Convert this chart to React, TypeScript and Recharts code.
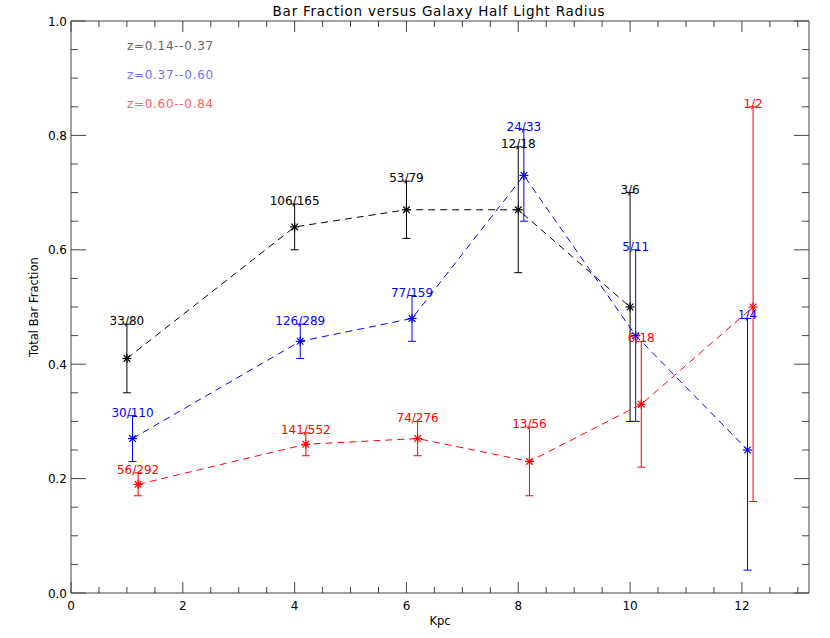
import { ComposedChart, Scatter, XAxis, YAxis, ErrorBar } from 'recharts';

// z = 0.14 -- 0.37
const blackX = [1.0, 4.0, 6.0, 8.0, 10.0];
const blackY = [0.41, 0.64, 0.67, 0.67, 0.5];
const blackLo = [0.35, 0.6, 0.62, 0.56, 0.3];
const blackHi = [0.47, 0.68, 0.72, 0.78, 0.7];
const blackLabels = ['33/80', '106/165', '53/79', '12/18', '3/6'];

// z = 0.37 -- 0.60
const blueX = [1.1, 4.1, 6.1, 8.1, 10.1, 12.1];
const blueY = [0.27, 0.44, 0.48, 0.73, 0.45, 0.25];
const blueLo = [0.23, 0.41, 0.44, 0.65, 0.3, 0.04];
const blueHi = [0.31, 0.47, 0.52, 0.81, 0.6, 0.48];
const blueLabels = ['30/110', '126/289', '77/159', '24/33', '5/11', '1/4'];

// z = 0.60 -- 0.84
const redX = [1.2, 4.2, 6.2, 8.2, 10.2, 12.2];
const redY = [0.19, 0.26, 0.27, 0.23, 0.33, 0.5];
const redLo = [0.17, 0.24, 0.24, 0.17, 0.22, 0.16];
const redHi = [0.21, 0.28, 0.3, 0.29, 0.44, 0.85];
const redLabels = ['56/292', '141/552', '74/276', '13/56', '6/18', '1/2'];

const legendLabels = ['z=0.14--0.37', 'z=0.37--0.60', 'z=0.60--0.84'];

const xTicks = Array.from({ length: 27 }, (_, i) => i * 0.5);
const yTicks = Array.from({ length: 21 }, (_, i) => Math.round(i * 5) / 100);

const FONT = '"DejaVu Sans", sans-serif';
const AXIS = '#444';

type Pt = { x: number; y: number; hi: number; err: [number, number]; label: string };

function build(xs: number[], ys: number[], lo: number[], hi: number[], labels: string[]): Pt[] {
  return xs.map((x, i) => ({
    x,
    y: ys[i],
    hi: hi[i],
    err: [ys[i] - lo[i], hi[i] - ys[i]],
    label: labels[i],
  }));
}

const black = build(blackX, blackY, blackLo, blackHi, blackLabels);
const blue = build(blueX, blueY, blueLo, blueHi, blueLabels);
const red = build(redX, redY, redLo, redHi, redLabels);

const isMajor = (v: number, step: number) => Math.abs(v / step - Math.round(v / step)) < 1e-6;

function BottomTick({ x, y, payload }: any) {
  const v = payload.value;
  const major = isMajor(v, 2);
  return (
    <g>
      <line x1={x} x2={x} y1={y} y2={y - (major ? 11 : 6)} stroke={AXIS} />
      {major && (
        <text x={x} y={y + 17} textAnchor="middle" fontSize={12} fontFamily={FONT} fill="#000">
          {v}
        </text>
      )}
    </g>
  );
}

function TopTick({ x, y, payload }: any) {
  const major = isMajor(payload.value, 2);
  return <line x1={x} x2={x} y1={y} y2={y + (major ? 11 : 6)} stroke={AXIS} />;
}

function LeftTick({ x, y, payload }: any) {
  const v = payload.value;
  const major = isMajor(v, 0.2);
  return (
    <g>
      <line x1={x} x2={x + (major ? 15 : 7)} y1={y} y2={y} stroke={AXIS} />
      {major && (
        <text x={x - 4} y={y + 4.5} textAnchor="end" fontSize={12} fontFamily={FONT} fill="#000">
          {v.toFixed(1)}
        </text>
      )}
    </g>
  );
}

function RightTick({ x, y, payload }: any) {
  const major = isMajor(payload.value, 0.2);
  return <line x1={x} x2={x - (major ? 15 : 7)} y1={y} y2={y} stroke={AXIS} />;
}

function asterisk(color: string) {
  return (p: any) => {
    const { cx, cy } = p;
    const r = 4.5;
    const d = 3.3;
    return (
      <g stroke={color} strokeWidth={1.2}>
        <line x1={cx - r} x2={cx + r} y1={cy} y2={cy} />
        <line x1={cx} x2={cx} y1={cy - r} y2={cy + r} />
        <line x1={cx - d} x2={cx + d} y1={cy - d} y2={cy + d} />
        <line x1={cx - d} x2={cx + d} y1={cy + d} y2={cy - d} />
      </g>
    );
  };
}

function countLabel(color: string) {
  return (p: any) => (
    <text
      x={p.cx}
      y={p.cy + 1}
      textAnchor="middle"
      fontSize={12}
      fontFamily={FONT}
      fill={color}
    >
      {p.payload?.label}
    </text>
  );
}

const series = [
  { data: black, color: '#000000' },
  { data: blue, color: '#0000ff' },
  { data: red, color: '#ff0000' },
];

const legendColors = ['#666666', '#7070ff', '#ff6060'];

export default function App() {
  return (
    <div style={{ position: 'absolute', left: 0, top: 0, width: 830, height: 638, background: '#fff', fontFamily: FONT }}>
      <ComposedChart width={830} height={638} margin={{ top: 20, right: 20, bottom: 15, left: 11 }}>
        <XAxis
          xAxisId="b"
          type="number"
          dataKey="x"
          domain={[0, 13.2]}
          ticks={xTicks}
          interval={0}
          height={30}
          tickSize={0}
          tickMargin={0}
          tickLine={false}
          axisLine={{ stroke: AXIS }}
          tick={<BottomTick />}
        />
        <XAxis
          xAxisId="t"
          orientation="top"
          type="number"
          dataKey="x"
          domain={[0, 13.2]}
          ticks={xTicks}
          interval={0}
          height={1}
          tickSize={0}
          tickMargin={0}
          tickLine={false}
          axisLine={{ stroke: AXIS }}
          tick={<TopTick />}
        />
        <YAxis
          yAxisId="l"
          type="number"
          dataKey="y"
          domain={[0, 1]}
          ticks={yTicks}
          interval={0}
          width={60}
          tickSize={0}
          tickMargin={0}
          tickLine={false}
          axisLine={{ stroke: AXIS }}
          tick={<LeftTick />}
        />
        <YAxis
          yAxisId="r"
          orientation="right"
          type="number"
          dataKey="hi"
          domain={[0, 1]}
          ticks={yTicks}
          interval={0}
          width={1}
          tickSize={0}
          tickMargin={0}
          tickLine={false}
          axisLine={{ stroke: AXIS }}
          tick={<RightTick />}
        />
        {series.map((s, i) => (
          <Scatter
            key={'s' + i}
            data={s.data}
            xAxisId="b"
            yAxisId="l"
            dataKey="y"
            fill={s.color}
            line={{ stroke: s.color, strokeDasharray: '7 5', strokeWidth: 1 }}
            lineType="joint"
            shape={asterisk(s.color)}
            isAnimationActive={false}
          >
            <ErrorBar dataKey="err" direction="y" width={4} stroke={s.color} strokeWidth={1} />
          </Scatter>
        ))}
        {series.map((s, i) => (
          <Scatter
            key={'l' + i}
            data={s.data}
            xAxisId="t"
            yAxisId="r"
            dataKey="hi"
            fill={s.color}
            shape={countLabel(s.color)}
            isAnimationActive={false}
          />
        ))}
      </ComposedChart>
      <svg
        width={830}
        height={638}
        style={{ position: 'absolute', left: 0, top: 0, pointerEvents: 'none' }}
        fontFamily={FONT}
      >
        <text x={439} y={16} textAnchor="middle" fontSize={13.5} letterSpacing={0.75} fill="#000">
          Bar Fraction versus Galaxy Half Light Radius
        </text>
        {legendLabels.map((t, i) => (
          <text key={t} x={127} y={50 + i * 29} fontSize={12} letterSpacing={0.7} fill={legendColors[i]}>
            {t}
          </text>
        ))}
        <text x={440} y={625} textAnchor="middle" fontSize={11.5} fill="#000">
          Kpc
        </text>
        <text
          x={0}
          y={0}
          transform="translate(38 307) rotate(-90)"
          textAnchor="middle"
          fontSize={11.5}
          fill="#000"
        >
          Total Bar Fraction
        </text>
      </svg>
    </div>
  );
}
